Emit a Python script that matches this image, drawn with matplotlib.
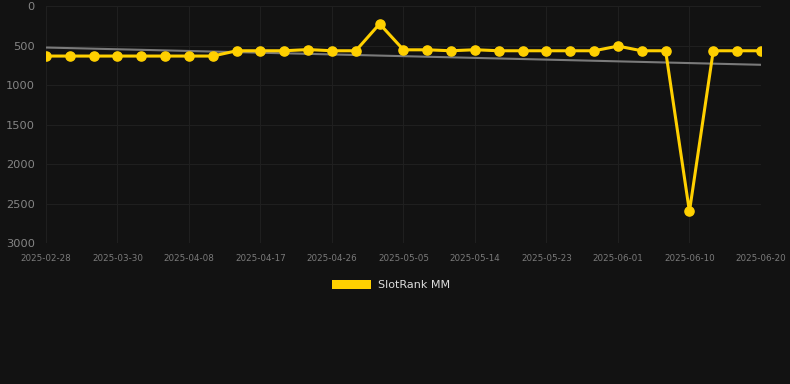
import numpy as np
import matplotlib
matplotlib.use("Agg")
import matplotlib.pyplot as plt
from matplotlib.patches import Patch

dates = ['2025-02-28', '2025-03-24', '2025-03-27', '2025-03-30', '2025-04-02', '2025-04-05',
         '2025-04-08', '2025-04-11', '2025-04-14', '2025-04-17', '2025-04-20', '2025-04-23',
         '2025-04-26', '2025-04-29', '2025-05-02', '2025-05-05', '2025-05-08', '2025-05-11',
         '2025-05-14', '2025-05-17', '2025-05-20', '2025-05-23', '2025-05-26', '2025-05-29',
         '2025-06-01', '2025-06-04', '2025-06-07', '2025-06-10', '2025-06-13', '2025-06-16',
         '2025-06-20']
rank = [632, 632, 632, 632, 632, 632, 632, 632, 565, 565, 565, 550, 565, 565, 224, 553,
        553, 565, 552, 565, 565, 565, 565, 565, 506, 565, 565, 2600, 565, 565, 565]

bg = '#121212'
yellow = '#ffd000'

fig = plt.figure(figsize=(7.9, 3.84), dpi=100, facecolor=bg)
ax = fig.add_axes([0.0582, 0.367, 0.905, 0.617])
ax.set_facecolor(bg)

x = np.arange(len(dates))

# trend line (linear fit)
k, b = np.polyfit(x, rank, 1)
ax.plot(x, k * x + b, color='#7a7a7a', lw=1.5, zorder=2)

ax.plot(x, rank, color=yellow, lw=2.2, marker='o', markersize=6.6, zorder=3)

ax.set_xlim(0, len(dates) - 1)
ax.set_ylim(3000, 0)
ax.set_yticks([0, 500, 1000, 1500, 2000, 2500, 3000])
ax.set_xticks(x[::3])
ax.set_xticklabels(dates[::3])

ax.grid(True, color='#1f1f1f', lw=0.8)
for s in ax.spines.values():
    s.set_visible(False)
ax.tick_params(axis='both', length=0)
ax.tick_params(axis='y', labelsize=8.2, pad=8, colors='#858585')
ax.tick_params(axis='x', labelsize=6.3, pad=8, colors='#7a7a7a')

leg = fig.legend(handles=[Patch(facecolor=yellow, label='SlotRank MM')],
                 loc='center', bbox_to_anchor=(0.495, 0.258), frameon=False,
                 handlelength=3.5, handleheight=1.0, handletextpad=0.6, fontsize=8)
for t in leg.get_texts():
    t.set_color('#dddddd')

fig.savefig('out.png', facecolor=bg)
